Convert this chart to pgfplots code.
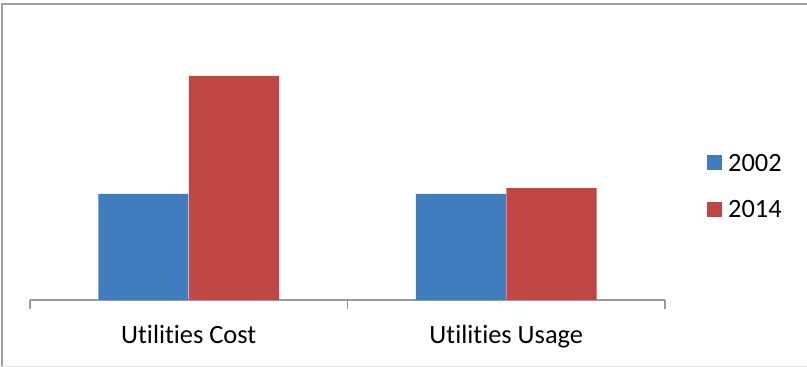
\documentclass[border=0pt]{standalone}
\usepackage{fontspec}
\setmainfont{Carlito}[Ligatures=NoCommon]
\usepackage{pgfplots}
\pgfplotsset{compat=1.18}
\definecolor{barblue}{HTML}{417DBE}
\definecolor{barred}{HTML}{C04644}
\definecolor{framegray}{HTML}{A0A0A0}
\definecolor{axisgray}{HTML}{9A9A9A}
\begin{document}
\begin{tikzpicture}
\useasboundingbox (0,0) rectangle (403.5bp,183.5bp);
% chart frame: left and top edge, faint bottom edge
\draw[framegray, line width=1bp] (0.75bp,0.5bp) -- (0.75bp,181.5bp) -- (403.5bp,181.5bp);
\draw[black!12, line width=0.5bp] (0,0.25bp) -- (403.5bp,0.25bp);
\begin{axis}[
  at={(15bp,33.5bp)}, anchor=south west,
  scale only axis, width=317.5bp, height=140bp,
  xmin=0, xmax=2, ymin=0, ymax=264,
  axis x line=bottom, axis y line=none,
  x axis line style={-, draw=axisgray, line width=0.7bp},
  xtick={0.5,1.5},
  xticklabels={Utilities Cost, Utilities Usage},
  major tick length=0pt,
  minor xtick={0,1,2},
  minor tick length=4.5bp,
  tick align=outside,
  every minor tick/.style={draw=axisgray, line width=0.7bp},
  ytick=\empty,
  xticklabel style={anchor=base, yshift=-21.5bp, font=\fontsize{13.2bp}{16bp}\selectfont, text=black},
  ybar, bar width=0.2835,
  legend style={
    at={(1.0657,0.5214)}, anchor=north west,
    draw=none, fill=none, inner sep=0pt, outer sep=0pt,
    font=\fontsize{13.2bp}{16bp}\selectfont,
    row sep=13.2bp,
    nodes={inner sep=0pt, outer sep=0pt},
  },
  legend cell align=left,
  /tikz/every odd column/.append style={column sep=3.2bp},
  legend image code/.code={\fill[#1] (0bp,-3bp) rectangle (7.5bp,4.5bp);},
]
\addplot[fill=barblue, draw=none, bar shift=-0.143] coordinates {(0.5,100) (1.5,100)};
\addplot[fill=barred, draw=none, bar shift=0.1425] coordinates {(0.5,211.3) (1.5,105.4)};
\legend{2002, 2014}
\end{axis}
\end{tikzpicture}
\end{document}
